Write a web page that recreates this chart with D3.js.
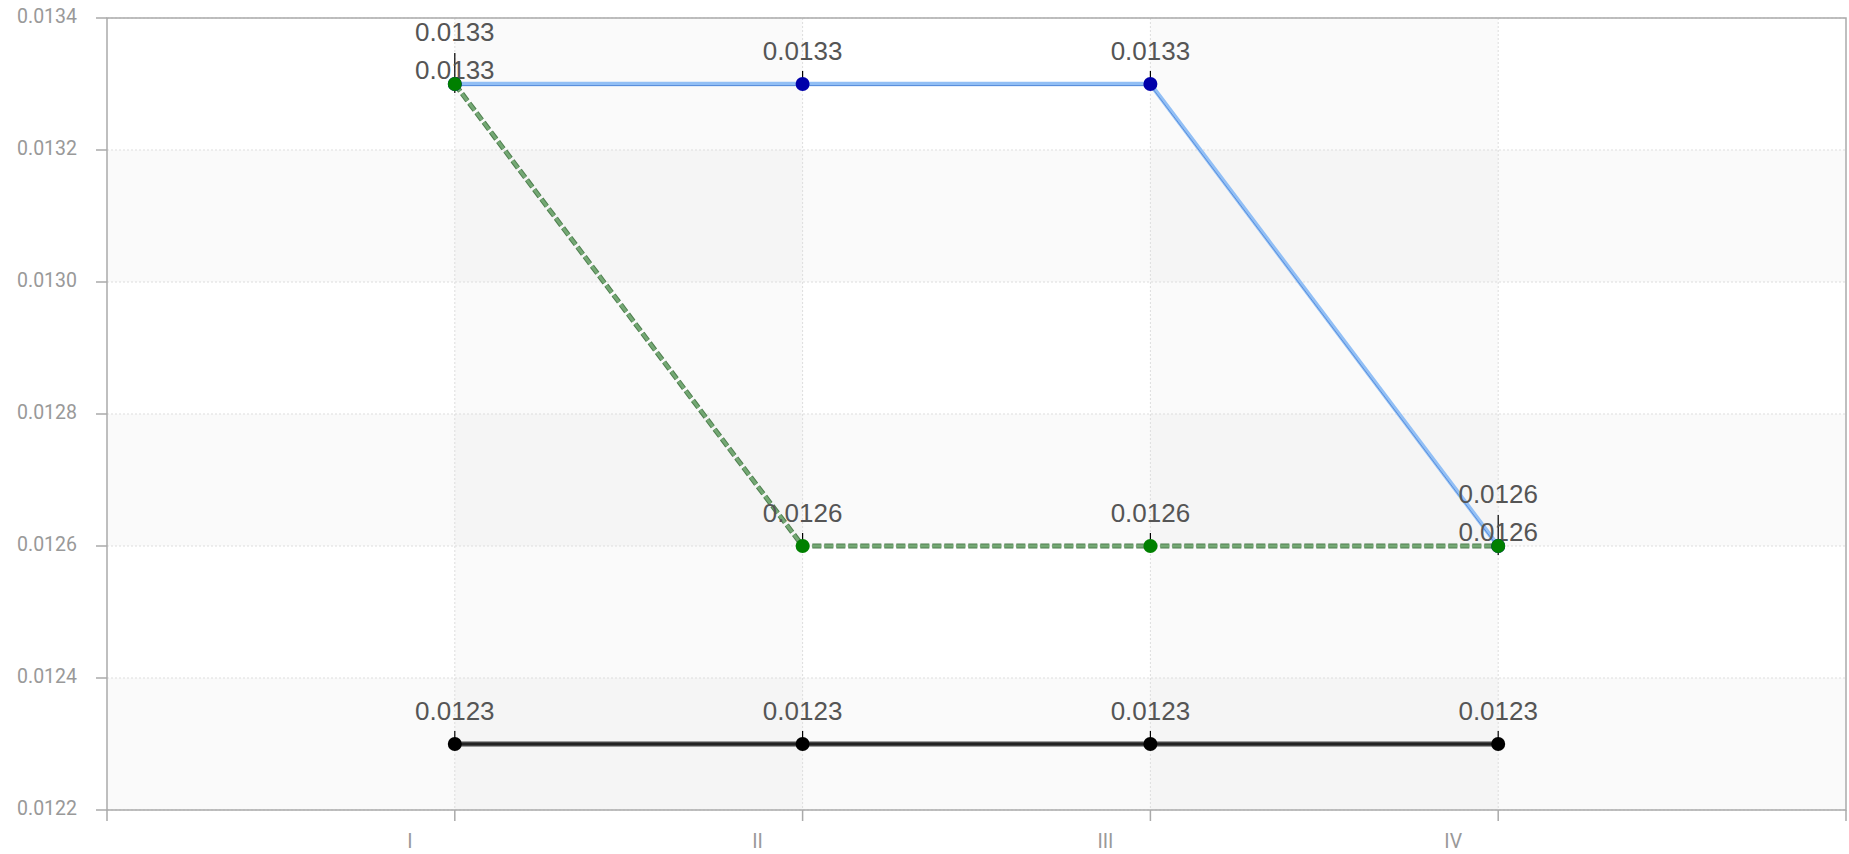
<!DOCTYPE html>
<html><head><meta charset="utf-8">
<script src="https://cdn.jsdelivr.net/npm/d3@7"></script>
<style>body{margin:0;background:#fff}svg{display:block}</style>
</head><body>
<svg id="c" width="1849" height="854"></svg>
<script>
const categories = ["I","II","III","IV"];
const blueValues = [0.0133, 0.0133, 0.0133, 0.0126];
const greenValues = [0.0133, 0.0126, 0.0126, 0.0126];
const blackValues = [0.0123, 0.0123, 0.0123, 0.0123];
const yTicks = [0.0122, 0.0124, 0.0126, 0.0128, 0.0130, 0.0132, 0.0134];

const svg = d3.select("#c");
const L = 107, R = 1846, T = 18, B = 810;
const x = d3.scaleLinear().domain([0, 5]).range([L, R]);
const y = d3.scaleLinear().domain([0.0122, 0.0134]).range([B, T]);
const xi = i => x(i + 1);

// bands
const g = svg.append("g");
for (let i = 0; i < yTicks.length - 1; i++) {
  if (i % 2 === 0) g.append("rect").attr("x", L).attr("width", R - L)
    .attr("y", y(yTicks[i + 1])).attr("height", y(yTicks[i]) - y(yTicks[i + 1]))
    .attr("fill", "rgba(0,0,0,0.02)");
}
[0, 2].forEach(i => g.append("rect").attr("x", xi(i)).attr("width", xi(i + 1) - xi(i))
  .attr("y", T).attr("height", B - T).attr("fill", "rgba(0,0,0,0.02)"));

// grid
yTicks.forEach(t => g.append("line").attr("x1", L).attr("x2", R).attr("y1", y(t)).attr("y2", y(t))
  .attr("stroke", "#ddd").attr("stroke-dasharray", "2,2"));
categories.forEach((c, i) => g.append("line").attr("x1", xi(i)).attr("x2", xi(i)).attr("y1", T).attr("y2", B)
  .attr("stroke", "#ddd").attr("stroke-dasharray", "2,2"));

// frame & axes
const ax = svg.append("g").attr("stroke", "#aaa").attr("stroke-width", 1.5).attr("fill", "none");
ax.append("rect").attr("x", L).attr("y", T).attr("width", R - L).attr("height", B - T);
yTicks.forEach(t => ax.append("line").attr("x1", L - 11).attr("x2", L).attr("y1", y(t)).attr("y2", y(t)));
[0, 1, 2, 3, 4, 5].forEach(v => ax.append("line").attr("x1", x(v)).attr("x2", x(v)).attr("y1", B).attr("y2", B + 11));

svg.append("g").selectAll("text").data(yTicks).join("text")
  .attr("x", 77).attr("y", d => y(d)).attr("dy", "0.28em").attr("text-anchor", "end")
  .attr("font-family", "Roboto, sans-serif").attr("font-size", 19.5).attr("fill", "#999")
  .text(d => d3.format(".4f")(d));
svg.append("g").selectAll("text").data(categories).join("text")
  .attr("x", (d, i) => xi(i) - 45).attr("y", 848).attr("text-anchor", "middle")
  .attr("font-family", "Roboto, sans-serif").attr("font-size", 19.5).attr("fill", "#999")
  .text(d => d);

const line = d3.line().x((d, i) => xi(i)).y(d => y(d));

// blue
svg.append("path").datum(blueValues).attr("d", line).attr("fill", "none").attr("stroke", "#92bff5").attr("stroke-width", 4.5);
svg.append("path").datum(blueValues).attr("d", line).attr("fill", "none").attr("stroke", "#5a8fdc").attr("stroke-width", 1).attr("transform", "translate(0,1.5)");
// black
svg.append("path").datum(blackValues).attr("d", line).attr("fill", "none").attr("stroke", "#444").attr("stroke-width", 5);
svg.append("path").datum(blackValues).attr("d", line).attr("fill", "none").attr("stroke", "#000").attr("stroke-width", 1.2);
// green dashed
svg.append("path").datum(greenValues).attr("d", line).attr("fill", "none").attr("stroke", "#4f7f4f").attr("stroke-width", 5).attr("stroke-dasharray", "9,3");
svg.append("path").datum(greenValues).attr("d", line).attr("fill", "none").attr("stroke", "#74a874").attr("stroke-width", 3).attr("stroke-dasharray", "9,3");

// labels
const series = [
  {vals: blueValues, color: "#0000aa"},
  {vals: greenValues, color: "#008000"},
  {vals: blackValues, color: "#000"}
];
const lab = svg.append("g");
const fmt = d3.format(".4f");
function addLabel(cx, by, v) {
  lab.append("text").attr("x", cx).attr("y", by).attr("text-anchor", "middle")
    .attr("font-family", "'Liberation Sans', Arial, sans-serif").attr("font-size", 26).attr("fill", "#555")
    .text(fmt(v));
}
categories.forEach((c, i) => {
  const groups = d3.groups(series, s => s.vals[i]);
  groups.forEach(([v, ss]) => {
    const py = y(v);
    if (ss.length === 1) {
      lab.append("line").attr("x1", xi(i)).attr("x2", xi(i)).attr("y1", py - 13).attr("y2", py).attr("stroke", "#000").attr("stroke-width", 1.2);
      addLabel(xi(i), py - 24, v);
    } else {
      lab.append("line").attr("x1", xi(i)).attr("x2", xi(i)).attr("y1", py - 31).attr("y2", py + 9).attr("stroke", "#000").attr("stroke-width", 1.2);
      ss.forEach((s, k) => addLabel(xi(i), py - 5 - 38 * k, v));
    }
  });
});

// points
series.forEach(s => {
  svg.append("g").selectAll("circle").data(s.vals).join("circle")
    .attr("cx", (d, i) => xi(i)).attr("cy", d => y(d)).attr("r", 7).attr("fill", s.color);
});
</script>
</body></html>
